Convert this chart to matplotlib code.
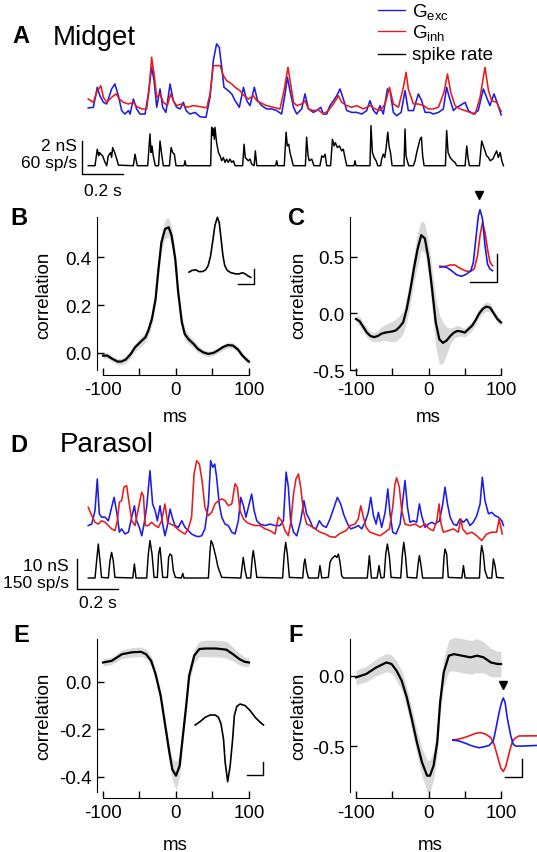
import matplotlib
matplotlib.use('Agg')
import matplotlib.pyplot as plt

plt.rcParams['font.family'] = ['Liberation Sans', 'DejaVu Sans']
plt.rcParams['mathtext.fontset'] = 'custom'
plt.rcParams['mathtext.rm'] = 'Liberation Sans'
plt.rcParams['axes.unicode_minus'] = False

W, H = 537, 853
BLUE = '#1c1ce6'
RED = '#e61c1c'
BAND = '#d9d9d9'

# ---------------- data ----------------
# panel A, midget cell: conductances (s, nS) and spike rate (s, sp/s)
midget_exc = [(0.011,0.67),(0.036,0.71),(0.055,1.92),(0.068,1.41),(0.085,1.01),(0.101,0.91),(0.125,1.82),(0.141,2.12),
              (0.158,1.41),(0.174,0.51),(0.190,0.30),(0.207,0.51),(0.215,0.30),(0.231,1.21),(0.247,0.61),(0.263,0.30),
              (0.288,0.30),(0.304,1.52),(0.320,3.13),(0.332,2.32),(0.345,0.71),(0.361,1.82),(0.374,0.71),(0.390,0.40),
              (0.410,2.12),(0.426,1.11),(0.442,0.71),(0.459,0.61),(0.475,1.01),(0.488,0.51),(0.507,0.30),(0.532,0.40),
              (0.556,0.14),(0.585,0.10),(0.605,1.31),(0.621,3.54),(0.637,4.55),(0.650,4.34),(0.662,3.13),(0.673,1.92),
              (0.694,1.72),(0.711,1.52),(0.727,1.11),(0.748,0.71),(0.768,1.92),(0.784,1.11),(0.800,0.81),(0.821,1.92),
              (0.837,1.11),(0.857,0.81),(0.881,0.61),(0.906,0.61),(0.930,0.51),(0.954,0.30),(0.971,1.52),(0.982,2.53),
              (0.995,1.72),(1.012,0.71),(1.028,0.30),(1.052,0.61),(1.068,1.52),(1.085,0.61),(1.109,0.40),(1.125,0.51),
              (1.145,0.71),(1.158,0.30),(1.174,0.30),(1.190,0.81),(1.207,1.11),(1.223,1.41),(1.239,1.82),(1.255,1.21),
              (1.272,0.51),(1.296,0.40),(1.320,0.40),(1.345,0.30),(1.369,0.51),(1.385,1.11),(1.402,0.51),(1.418,0.30),
              (1.434,0.81),(1.450,0.30),(1.470,1.82),(1.483,1.72),(1.499,0.40),(1.515,0.20),(1.537,0.40),(1.556,1.72),
              (1.572,0.51),(1.597,0.51),(1.621,1.52),(1.637,1.11),(1.654,0.40),(1.678,0.40),(1.694,0.30),(1.719,0.40),
              (1.743,0.61),(1.759,1.92),(1.772,1.31),(1.792,0.51),(1.808,0.71),(1.824,0.81),(1.849,1.01),(1.865,0.51),
              (1.889,0.30),(1.913,0.51),(1.938,1.82),(1.954,1.31),(1.970,0.81),(1.990,1.52),(2.005,1.00),(2.025,0.25)]
midget_inh = [(0.011,1.21),(0.036,1.01),(0.052,1.62),(0.072,2.02),(0.085,1.31),(0.101,1.01),(0.125,1.31),(0.146,1.52),
              (0.163,1.21),(0.182,1.01),(0.207,0.91),(0.231,1.01),(0.247,0.75),(0.272,0.61),(0.296,0.61),(0.309,1.92),
              (0.320,3.74),(0.332,2.73),(0.345,1.31),(0.361,1.52),(0.377,1.01),(0.397,0.81),(0.413,1.52),(0.426,1.11),
              (0.442,0.81),(0.467,0.91),(0.491,0.71),(0.524,0.81),(0.556,0.75),(0.589,0.67),(0.605,1.52),(0.621,3.23),
              (0.637,3.23),(0.654,3.23),(0.670,2.63),(0.686,2.32),(0.711,2.12),(0.727,1.92),(0.751,1.72),(0.771,1.41),
              (0.792,1.21),(0.816,1.41),(0.833,1.11),(0.857,0.95),(0.881,0.81),(0.914,0.71),(0.946,0.61),(0.966,1.72),
              (0.985,3.13),(0.998,2.12),(1.012,1.01),(1.028,0.81),(1.052,0.91),(1.068,1.11),(1.085,0.61),(1.109,0.51),
              (1.133,0.55),(1.158,0.30),(1.182,0.51),(1.207,0.91),(1.231,1.41),(1.247,1.01),(1.272,0.81),(1.296,0.71),
              (1.320,0.81),(1.353,0.61),(1.385,0.81),(1.410,0.61),(1.434,0.51),(1.459,0.91),(1.480,1.92),(1.499,0.91),
              (1.524,0.71),(1.548,1.92),(1.561,2.83),(1.572,1.82),(1.597,0.91),(1.621,0.91),(1.646,0.81),(1.670,0.61),
              (1.694,0.61),(1.719,0.71),(1.746,1.62),(1.763,2.73),(1.779,1.62),(1.800,0.81),(1.824,0.61),(1.849,0.51),
              (1.873,0.40),(1.898,0.30),(1.922,1.31),(1.946,3.13),(1.963,1.72),(1.979,1.11),(2.003,1.01),(2.025,0.45)]
midget_rate = [(0.011,0),(0.044,0),(0.055,30),(0.062,18),(0.065,24),(0.073,21),(0.081,18),(0.093,6),(0.101,0),
               (0.109,18),(0.120,24),(0.125,15),(0.130,33),(0.140,24),(0.150,12),(0.158,1),(0.231,0),(0.239,21),
               (0.250,0),(0.301,0),(0.312,58),(0.317,24),(0.322,36),(0.328,18),(0.338,0),(0.354,0),(0.361,45),
               (0.369,21),(0.377,0),(0.407,0),(0.415,33),(0.423,24),(0.431,21),(0.439,0),(0.478,0),(0.483,9),
               (0.488,0),(0.608,0),(0.613,70),(0.618,55),(0.621,67),(0.626,48),(0.629,70),(0.637,42),(0.646,24),
               (0.654,18),(0.662,9),(0.670,15),(0.678,6),(0.686,12),(0.694,6),(0.702,12),(0.711,6),(0.719,9),
               (0.727,0),(0.764,0),(0.771,39),(0.777,15),(0.784,12),(0.792,9),(0.800,12),(0.808,3),(0.820,0),
               (0.826,27),(0.833,0),(0.925,0),(0.930,9),(0.935,0),(0.967,0),(0.976,61),(0.982,36),(0.989,39),
               (0.995,24),(1.003,12),(1.011,0),(1.070,0),(1.076,52),(1.083,18),(1.089,9),(1.101,12),(1.112,0),
               (1.141,0),(1.150,18),(1.158,15),(1.166,21),(1.174,0),(1.193,0),(1.202,48),(1.210,36),(1.216,42),
               (1.226,33),(1.236,36),(1.247,27),(1.255,30),(1.263,15),(1.272,0),(1.307,0),(1.312,9),(1.317,0),
               (1.385,0),(1.390,73),(1.397,24),(1.405,15),(1.415,9),(1.423,0),(1.437,0),(1.442,12),(1.450,21),
               (1.457,15),(1.463,30),(1.472,61),(1.478,36),(1.485,24),(1.493,0),(1.551,0),(1.556,67),(1.561,18),
               (1.567,9),(1.574,0),(1.597,0),(1.605,9),(1.613,24),(1.621,36),(1.629,48),(1.636,52),(1.642,18),
               (1.649,0),(1.753,0),(1.759,64),(1.766,24),(1.776,15),(1.789,9),(1.800,6),(1.808,0),(1.849,0),
               (1.857,36),(1.863,15),(1.870,0),(1.919,0),(1.930,45),(1.938,36),(1.946,27),(1.954,18),(1.963,15),
               (1.971,9),(1.984,12),(1.995,21),(2.003,27),(2.011,15),(2.020,24),(2.028,9),(2.036,0)]

# panel D, parasol cell
parasol_exc = [(0.011,7.8),(0.028,8.3),(0.044,12.8),(0.055,23.3),(0.065,11.7),(0.076,10.6),(0.093,10.6),(0.109,9.4),
               (0.125,13.9),(0.137,17.2),(0.150,12.2),(0.163,5.6),(0.174,6.7),(0.190,5.0),(0.207,5.6),(0.223,10.6),
               (0.236,14.4),(0.247,9.4),(0.260,7.2),(0.272,4.4),(0.283,8.3),(0.296,13.9),(0.312,26.1),(0.325,15.0),
               (0.337,12.8),(0.348,9.4),(0.361,14.4),(0.374,8.3),(0.385,4.4),(0.397,7.8),(0.410,13.3),(0.423,10.0),
               (0.434,7.8),(0.450,7.2),(0.467,9.4),(0.483,7.2),(0.499,6.1),(0.515,5.0),(0.532,4.4),(0.548,4.1),
               (0.564,4.4),(0.580,6.7),(0.597,15.0),(0.608,29.4),(0.618,27.2),(0.628,28.3),(0.637,23.9),(0.650,15.0),
               (0.662,10.6),(0.678,8.3),(0.694,7.8),(0.711,5.6),(0.727,5.0),(0.743,9.4),(0.755,17.2),(0.768,14.4),
               (0.780,10.6),(0.792,13.9),(0.808,18.3),(0.820,12.8),(0.833,9.4),(0.849,8.3),(0.873,7.8),(0.898,8.3),
               (0.922,7.8),(0.946,7.8),(0.963,9.4),(0.976,25.6),(0.987,20.6),(0.998,9.4),(1.012,5.6),(1.028,4.4),
               (1.047,9.4),(1.063,16.1),(1.076,11.7),(1.089,10.0),(1.106,7.2),(1.122,6.7),(1.138,9.4),(1.154,7.8),
               (1.172,7.2),(1.190,10.0),(1.210,13.9),(1.226,17.2),(1.242,15.0),(1.259,11.1),(1.276,8.3),(1.291,6.7),
               (1.312,7.2),(1.328,7.8),(1.345,6.7),(1.361,8.9),(1.377,12.2),(1.389,17.2),(1.402,11.1),(1.415,8.3),
               (1.426,12.2),(1.442,7.2),(1.459,12.2),(1.472,20.0),(1.483,11.7),(1.496,5.6),(1.512,5.0),(1.532,8.3),
               (1.545,16.1),(1.556,22.8),(1.568,13.9),(1.580,8.9),(1.597,9.4),(1.613,8.9),(1.626,15.0),(1.637,11.1),
               (1.654,7.2),(1.670,8.3),(1.686,8.9),(1.702,8.3),(1.724,9.4),(1.740,15.0),(1.751,20.6),(1.763,15.0),
               (1.776,10.6),(1.792,8.3),(1.808,7.8),(1.824,10.0),(1.841,8.9),(1.857,10.0),(1.873,7.8),(1.889,8.9),
               (1.906,11.1),(1.922,15.0),(1.933,23.9),(1.946,16.1),(1.963,11.7),(1.979,12.2),(1.995,11.1),(2.011,10.6),
               (2.028,9.4),(2.036,7.8)]
parasol_inh = [(0.011,13.9),(0.028,11.1),(0.044,8.9),(0.060,8.3),(0.076,9.4),(0.093,8.9),(0.109,7.8),(0.125,6.7),
               (0.141,6.1),(0.153,9.4),(0.163,15.6),(0.174,16.1),(0.185,20.6),(0.198,21.1),(0.211,15.0),(0.223,9.4),
               (0.239,7.8),(0.255,13.3),(0.271,18.9),(0.280,17.8),(0.289,7.8),(0.304,7.8),(0.320,8.9),(0.337,7.8),
               (0.353,7.2),(0.369,9.4),(0.385,15.0),(0.398,8.9),(0.413,8.3),(0.429,7.8),(0.446,6.7),(0.467,5.6),
               (0.483,5.0),(0.499,6.7),(0.515,10.6),(0.527,25.0),(0.540,29.4),(0.553,28.3),(0.566,22.8),(0.580,13.9),
               (0.597,11.1),(0.613,12.2),(0.629,15.0),(0.646,16.1),(0.662,16.7),(0.678,16.1),(0.694,14.4),(0.711,15.0),
               (0.727,21.7),(0.738,20.6),(0.751,12.8),(0.768,10.0),(0.784,8.9),(0.800,8.3),(0.824,7.8),(0.849,7.8),
               (0.873,6.7),(0.898,6.1),(0.922,5.0),(0.938,10.6),(0.954,9.4),(0.971,6.1),(0.987,4.4),(1.000,9.4),
               (1.012,18.3),(1.024,23.3),(1.036,25.0),(1.047,20.6),(1.060,12.8),(1.076,8.3),(1.093,7.8),(1.117,6.7),
               (1.142,5.6),(1.167,5.0),(1.190,4.1),(1.215,3.9),(1.239,5.2),(1.268,6.1),(1.288,7.8),(1.312,8.3),
               (1.328,10.0),(1.340,14.4),(1.353,10.6),(1.366,7.2),(1.385,5.6),(1.410,5.0),(1.434,4.4),(1.459,5.6),
               (1.480,6.7),(1.496,13.9),(1.507,21.7),(1.515,23.7),(1.528,20.6),(1.540,12.8),(1.556,8.3),(1.580,7.8),
               (1.605,8.3),(1.630,7.2),(1.654,8.3),(1.675,6.7),(1.694,6.1),(1.711,9.4),(1.722,15.0),(1.732,8.3),
               (1.743,5.6),(1.767,6.1),(1.792,6.7),(1.816,5.6),(1.828,10.0),(1.837,6.7),(1.857,5.0),(1.882,5.6),
               (1.906,4.4),(1.930,2.8),(1.954,5.0),(1.979,5.6),(2.003,5.6),(2.015,10.0),(2.030,5.0)]
parasol_rate = [(0.011,0),(0.044,0),(0.052,87),(0.060,170),(0.068,87),(0.076,3),(0.109,0),(0.117,87),(0.125,128),
                (0.133,87),(0.141,3),(0.228,0),(0.236,70),(0.244,0),(0.296,0),(0.304,120),(0.312,187),(0.322,120),
                (0.332,3),(0.348,3),(0.354,120),(0.361,153),(0.367,87),(0.374,3),(0.397,3),(0.403,103),(0.410,120),
                (0.418,112),(0.426,37),(0.436,3),(0.465,0),(0.472,23),(0.478,0),(0.597,0),(0.605,137),(0.610,187),
                (0.618,170),(0.626,137),(0.634,103),(0.642,62),(0.650,37),(0.662,3),(0.755,0),(0.761,53),(0.767,103),
                (0.776,37),(0.784,0),(0.803,0),(0.811,103),(0.816,137),(0.823,87),(0.833,3),(0.959,0),(0.967,120),
                (0.974,178),(0.982,120),(0.992,3),(1.057,0),(1.063,70),(1.068,95),(1.076,37),(1.085,0),(1.133,0),
                (1.141,62),(1.150,0),(1.182,3),(1.190,78),(1.198,95),(1.206,103),(1.215,112),(1.223,103),(1.231,120),
                (1.239,78),(1.247,12),(1.255,0),(1.372,0),(1.382,112),(1.392,0),(1.420,0),(1.429,62),(1.439,0),
                (1.454,3),(1.462,120),(1.470,170),(1.480,103),(1.488,3),(1.535,0),(1.543,120),(1.550,178),(1.559,103),
                (1.567,3),(1.613,0),(1.620,70),(1.626,112),(1.634,62),(1.642,0),(1.740,0),(1.746,103),(1.751,145),
                (1.759,120),(1.767,3),(1.833,0),(1.841,62),(1.849,0),(1.919,0),(1.925,120),(1.930,162),(1.938,120),
                (1.946,37),(1.958,0),(1.979,0),(1.987,95),(1.995,62),(2.003,3),(2.036,0)]

# panel B: midget spike-rate / G_exc correlation (ms)
b_lag = [-100, -94, -87, -80, -75, -69, -62, -56, -49, -42, -38, -33, -28, -24, -20, -15, -10, -6, -1, 3,
         8, 12, 17, 24, 30, 37, 44, 51, 57, 64, 71, 78, 85, 91, 98, 100]
b_mean = [-0.011, -0.011, -0.025, -0.036, -0.036, -0.028, -0.004, 0.024, 0.045, 0.065, 0.093, 0.142, 0.225,
          0.351, 0.462, 0.518, 0.525, 0.49, 0.392, 0.253, 0.128, 0.079, 0.058, 0.038, 0.017, 0.003, -0.004,
          0.0, 0.01, 0.024, 0.033, 0.031, 0.014, -0.011, -0.032, -0.036]
b_sem = [0.012, 0.012, 0.012, 0.013, 0.014, 0.014, 0.015, 0.018, 0.02, 0.02, 0.022, 0.025, 0.025, 0.028,
         0.035, 0.04, 0.04, 0.038, 0.035, 0.03, 0.028, 0.025, 0.02, 0.018, 0.015, 0.012, 0.012, 0.012, 0.012,
         0.012, 0.012, 0.012, 0.012, 0.012, 0.012, 0.012]

# panel C: midget G_exc / G_inh correlation
c_lag = [-100, -95, -90, -85, -80, -75, -70, -65, -60, -55, -50, -45, -40, -35, -30, -25, -20, -15, -10, -5,
         0, 5, 10, 15, 20, 25, 30, 35, 40, 45, 50, 55, 60, 65, 70, 75, 80, 85, 90, 95, 100]
c_mean = [-0.05, -0.07, -0.12, -0.17, -0.2, -0.21, -0.2, -0.18, -0.17, -0.165, -0.16, -0.15, -0.12, -0.08,
          0.04, 0.21, 0.4, 0.57, 0.69, 0.66, 0.48, 0.21, -0.08, -0.23, -0.26, -0.24, -0.2, -0.17, -0.155,
          -0.16, -0.17, -0.14, -0.11, -0.06, 0.0, 0.04, 0.06, 0.05, 0.0, -0.05, -0.08]
c_sem = [0.03, 0.04, 0.04, 0.04, 0.04, 0.04, 0.05, 0.06, 0.07, 0.08, 0.09, 0.1, 0.1, 0.1, 0.11, 0.12, 0.13,
         0.14, 0.13, 0.13, 0.15, 0.18, 0.22, 0.22, 0.18, 0.12, 0.07, 0.05, 0.05, 0.04, 0.04, 0.04, 0.04, 0.04,
         0.04, 0.04, 0.04, 0.04, 0.03, 0.03, 0.03]

# panel E: parasol spike-rate / G correlation
e_lag = [-100, -88, -74, -60, -48, -41, -34, -28, -21, -14, -9, -5, 0, 5, 9, 14, 18, 25, 32, 41, 55, 69,
         78, 87, 94, 100]
e_mean = [0.081, 0.088, 0.116, 0.124, 0.126, 0.116, 0.088, 0.032, -0.059, -0.2, -0.3, -0.37, -0.396, -0.354,
          -0.24, -0.1, 0.025, 0.11, 0.138, 0.14, 0.14, 0.135, 0.116, 0.095, 0.084, 0.081]
e_sem = [0.015, 0.015, 0.018, 0.02, 0.02, 0.02, 0.02, 0.022, 0.025, 0.028, 0.035, 0.045, 0.06, 0.045, 0.035,
         0.03, 0.03, 0.03, 0.032, 0.035, 0.035, 0.035, 0.03, 0.025, 0.02, 0.018]

# panel F: parasol G_exc / G_inh correlation
f_lag = [-100, -86, -72, -58, -51, -44, -37, -30, -23, -16, -9, -2, 2, 7, 12, 16, 21, 28, 35, 46, 58, 67,
         76, 86, 95, 100]
f_mean = [-0.012, 0.012, 0.059, 0.094, 0.083, 0.035, -0.035, -0.153, -0.307, -0.472, -0.613, -0.708, -0.708,
          -0.637, -0.472, -0.189, 0.024, 0.142, 0.153, 0.142, 0.13, 0.142, 0.13, 0.094, 0.083, 0.083]
f_sem = [0.05, 0.055, 0.06, 0.065, 0.065, 0.07, 0.07, 0.075, 0.08, 0.085, 0.1, 0.11, 0.11, 0.1, 0.09, 0.09,
         0.1, 0.11, 0.12, 0.12, 0.12, 0.12, 0.11, 0.1, 0.09, 0.09]

# insets (normalised)
b_in_lag = [-46, -41, -35, -30, -24, -19, -15, -11, -7, -4, 0, 3, 6, 9, 12, 16, 22, 30, 35, 41, 45, 49, 54]
b_in_val = [0.06, 0.09, 0.10, 0.07, 0.07, 0.10, 0.17, 0.34, 0.63, 0.86, 1.0, 0.91, 0.63, 0.34, 0.17, 0.09,
            0.05, 0.03, 0.03, 0.05, 0.03, 0.0, -0.03]
c_in_lag = [-48, -40, -34, -28, -22, -16, -11, -8, -5, -2, 0, 3, 6, 9, 12, 15]
c_in_exc = [0.02, 0.0, -0.06, -0.13, -0.156, -0.116, -0.058, 0.087, 0.49, 0.89, 1.0, 0.84, 0.376, 0.058,
            -0.029, -0.058]
c_in_lag2 = [-48, -42, -36, -30, -24, -18, -12, -7, -3, 0, 3, 6, 9, 12, 15]
c_in_inh = [0.0, 0.017, 0.04, 0.04, -0.017, -0.058, -0.075, -0.029, 0.202, 0.549, 0.78, 0.607, 0.318, 0.087,
            0.029]
e_in_lag = [-39, -33, -27, -21, -15, -11, -8, -5, -3, 0, 3, 6, 8, 11, 15, 21, 27, 33, 39, 43]
e_in_val = [0.0, 0.06, 0.135, 0.176, 0.176, 0.135, 0.018, -0.247, -0.659, -1.0, -0.718, -0.247, 0.165,
            0.329, 0.37, 0.341, 0.253, 0.135, 0.047, 0.0]
f_in_lag = [-62, -53, -45, -37, -29, -23, -17, -12, -9, -5, -2, 0, 2, 5, 9, 12, 15, 19, 23, 40]
f_in_exc = [0.0, -0.024, -0.081, -0.145, -0.185, -0.161, -0.129, -0.024, 0.258, 0.661, 0.903, 1.0, 0.903,
            0.5, 0.097, -0.105, -0.145, -0.145, -0.145, -0.13]
f_in_lag2 = [-62, -55, -47, -39, -33, -27, -21, -15, -11, -7, -3, 0, 3, 7, 11, 15, 19, 23, 40]
f_in_inh = [0.0, 0.016, 0.056, 0.113, 0.161, 0.177, 0.137, 0.056, -0.105, -0.387, -0.669, -0.75, -0.629,
            -0.306, -0.024, 0.056, 0.097, 0.097, 0.1]

SMALL = 13.5
SCALE = 12.5


def px_axes(fig, x0, y0, x1, y1):
    ax = fig.add_axes([x0 / W, 1 - y1 / H, (x1 - x0) / W, (y1 - y0) / H])
    ax.patch.set_alpha(0)
    return ax


def trace_axes(fig, box, xlim, ylim):
    ax = px_axes(fig, *box)
    ax.set_xlim(xlim)
    ax.set_ylim(ylim)
    ax.axis('off')
    return ax


def draw(ax, pts, color, lw=1.15):
    t, v = zip(*pts)
    ax.plot(t, v, color=color, lw=lw, clip_on=False)


def corr_panel(fig, box, lag, mean, sem, xlim, ylim, ybounds, yticks):
    ax = px_axes(fig, *box)
    lo = [m - s for m, s in zip(mean, sem)]
    hi = [m + s for m, s in zip(mean, sem)]
    ax.fill_between(lag, lo, hi, color=BAND, lw=0, clip_on=False)
    ax.plot(lag, mean, color='k', lw=1.6, clip_on=False)
    ax.set_xlim(xlim)
    ax.set_ylim(ylim)
    ax.spines['top'].set_visible(False)
    ax.spines['right'].set_visible(False)
    ax.spines['left'].set_bounds(*ybounds)
    ax.spines['bottom'].set_bounds(-100, 100)
    ax.set_xticks([-100, 0, 100])
    ax.set_xticklabels(['-100', '0', '100'])
    ax.set_xticks([-50, 50], minor=True)
    ax.set_yticks(yticks)
    ax.set_yticklabels(['%.1f' % v for v in yticks])
    ax.tick_params(which='both', direction='in', length=5, width=1, labelsize=SMALL)
    ax.tick_params(axis='x', pad=4)
    ax.tick_params(axis='y', pad=4)
    return ax


fig = plt.figure(figsize=(W / 100, H / 100), dpi=100)

# ---- A ----
ga = trace_axes(fig, (70, 30, 510, 125), (-0.078, 2.068), (-0.303, 5.45))
draw(ga, midget_exc, BLUE)
draw(ga, midget_inh, RED)
ra = trace_axes(fig, (70, 125, 510, 180), (-0.078, 2.068), (-24.2, 75.9))
draw(ra, midget_rate, 'k', lw=1.05)
ra.plot([-0.018, -0.018, 0.182], [45, -15, -15], color='k', lw=1.0, clip_on=False)

# ---- D ----
gd = trace_axes(fig, (70, 450, 510, 555), (-0.078, 2.068), (-1.67, 33.3))
draw(gd, parasol_exc, BLUE)
draw(gd, parasol_inh, RED)
rd = trace_axes(fig, (70, 540, 510, 600), (-0.078, 2.068), (-105, 195))
draw(rd, parasol_rate, 'k', lw=1.05)
rd.plot([-0.044, -0.044, 0.156], [95, -55, -55], color='k', lw=1.0, clip_on=False)

# ---- correlation panels ----
corr_panel(fig, (97, 218, 249, 376), b_lag, b_mean, b_sem, (-108.2, 100), (-0.092, 0.568),
           (-0.07, 0.568), [0.0, 0.2, 0.4])
corr_panel(fig, (350, 218, 501, 376), c_lag, c_mean, c_sem, (-108.3, 100), (-0.544, 0.85),
           (-0.5, 0.85), [-0.5, 0.0, 0.5])
corr_panel(fig, (97, 640, 249, 799), e_lag, e_mean, e_sem, (-108.2, 100), (-0.49, 0.18),
           (-0.463, 0.18), [-0.4, -0.2, 0.0])
corr_panel(fig, (350, 640, 501, 799), f_lag, f_mean, f_sem, (-108.3, 100), (-0.866, 0.26),
           (-0.82, 0.26), [-0.5, 0.0])

# ---- insets ----
ib = trace_axes(fig, (189, 218.3, 254.4, 285.4), (-46, 60), (-0.15, 1.0))
ib.plot(b_in_lag, b_in_val, color='k', lw=1.2, clip_on=False)
ib.plot([34, 59.3, 59.3], [-0.14, -0.14, 0.11], color='k', lw=1.0, clip_on=False)

ic = trace_axes(fig, (440, 189.9, 497.5, 283.9), (-48, 21), (-0.27, 1.36))
ic.plot(c_in_lag2, c_in_inh, color=RED, lw=1.2, clip_on=False)
ic.plot(c_in_lag, c_in_exc, color=BLUE, lw=1.2, clip_on=False)
ic.plot([-12, 20, 20], [-0.26, -0.26, 0.23], color='k', lw=1.0, clip_on=False)
ic.plot([-1.2], [1.25], marker='v', color='k', ms=6, clip_on=False)

ie = trace_axes(fig, (195, 703.3, 263.5, 783.8), (-39.2, 43), (-1.02, 0.4))
ie.plot(e_in_lag, e_in_val, color='k', lw=1.2, clip_on=False)
ie.plot([22.8, 42.8, 42.8], [-0.88, -0.88, -0.66], color='k', lw=1.0, clip_on=False)

iff = trace_axes(fig, (451.6, 680.1, 537, 780.9), (-62, 40.4), (-0.95, 1.45))
iff.plot(f_in_lag2, f_in_inh, color=RED, lw=1.2)
iff.plot(f_in_lag, f_in_exc, color=BLUE, lw=1.2)
iff.plot([2, 22.4, 22.4], [-0.88, -0.88, -0.45], color='k', lw=1.0, clip_on=False)
iff.plot([0], [1.31], marker='v', color='k', ms=6, clip_on=False)

# ---- text overlay in pixel coordinates ----
ov = px_axes(fig, 0, 0, W, H)
ov.set_xlim(0, W)
ov.set_ylim(H, 0)
ov.axis('off')

ov.text(12, 43, 'A', weight='bold', size=17, va='baseline')
ov.text(53, 45, 'Midget', size=20, va='baseline')
ov.plot([378, 405], [11, 11], color=BLUE, lw=1.0)
ov.plot([378, 405], [32, 32], color=RED, lw=1.0)
ov.plot([378, 405], [55, 55], color='k', lw=1.0)
ov.text(412, 18, r'G$_{\rm exc}$', size=13.5, va='baseline')
ov.text(412, 39, r'G$_{\rm inh}$', size=13.5, va='baseline')
ov.text(412, 60, 'spike rate', size=13.5, va='baseline')
ov.text(77, 151, '2 nS', size=SCALE, ha='right', va='baseline')
ov.text(77, 168, '60 sp/s', size=SCALE, ha='right', va='baseline')
ov.text(84, 196, '0.2 s', size=SCALE, va='baseline')

ov.text(10, 225, 'B', weight='bold', size=17, va='baseline')
ov.text(288, 225, 'C', weight='bold', size=17, va='baseline')
ov.text(44, 295, 'correlation', size=SMALL, rotation=90, ha='center', va='center')
ov.text(299, 295, 'correlation', size=SMALL, rotation=90, ha='center', va='center')
ov.text(175, 417, 'ms', size=SMALL, ha='center', va='center')
ov.text(428, 417, 'ms', size=SMALL, ha='center', va='center')

ov.text(10, 452, 'D', weight='bold', size=17, va='baseline')
ov.text(60, 452, 'Parasol', size=20, va='baseline')
ov.text(69, 571, '10 nS', size=SCALE, ha='right', va='baseline')
ov.text(69, 588, '150 sp/s', size=SCALE, ha='right', va='baseline')
ov.text(79, 608, '0.2 s', size=SCALE, va='baseline')

ov.text(13, 642, 'E', weight='bold', size=17, va='baseline')
ov.text(288, 642, 'F', weight='bold', size=17, va='baseline')
ov.text(44, 716, 'correlation', size=SMALL, rotation=90, ha='center', va='center')
ov.text(299, 716, 'correlation', size=SMALL, rotation=90, ha='center', va='center')
ov.text(175, 846, 'ms', size=SMALL, ha='center', va='center')
ov.text(430, 846, 'ms', size=SMALL, ha='center', va='center')

fig.savefig('out.png', dpi=100)
